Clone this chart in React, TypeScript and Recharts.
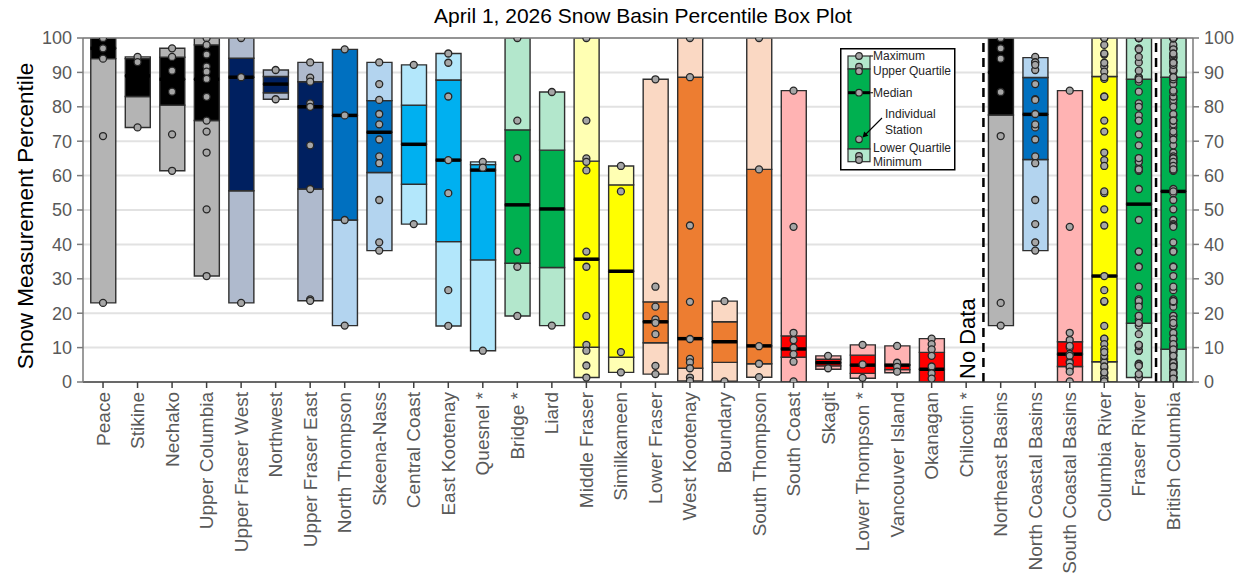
import React from "react";
import {
  ComposedChart,
  Bar,
  Scatter,
  XAxis,
  YAxis,
  CartesianGrid,
  ReferenceLine,
  Cell,
  Label,
} from "recharts";

const FONT = '"Liberation Sans", Arial, Helvetica, sans-serif';

const basins = [
  "Peace", "Stikine", "Nechako", "Upper Columbia", "Upper Fraser West", "Northwest",
  "Upper Fraser East", "North Thompson", "Skeena-Nass", "Central Coast", "East Kootenay",
  "Quesnel *", "Bridge *", "Liard", "Middle Fraser", "Similkameen", "Lower Fraser",
  "West Kootenay", "Boundary", "South Thompson", "South Coast", "Skagit",
  "Lower Thompson *", "Vancouver Island", "Okanagan", "Chilcotin *", "Northeast Basins",
  "North Coastal Basins", "South Coastal Basins", "Columbia River", "Fraser River",
  "British Columbia",
];

const minValues = [23, 74, 61.4, 30.8, 23, 82.2, 23.6, 16.4, 38.2, 45.9, 16.3, 9.1, 19.2, 16.4, 1.3, 2.8, 2.3, 0.3, 0.2, 1.4, 0, 3.7, 1.1, 2.7, 0, null, 16.4, 38.2, 0, 0, 1.3, 0];
const lowerQuartiles = [94, 83, 80.5, 76, 55.6, 84.1, 56.1, 47.1, 60.9, 57.5, 40.8, 35.5, 34.5, 33.3, 10.1, 7.2, 11.4, 4.0, 5.7, 5.3, 7.2, 4.7, 2.5, 3.6, 0, null, 77.6, 64.7, 4.5, 5.9, 17.1, 9.5];
const medians = [97, 89, 88, 88, 88.6, 86.6, 80, 77.5, 72.6, 69.1, 64.5, 61.6, 51.5, 50.3, 35.7, 32.2, 17.5, 12.6, 11.7, 10.5, 9.6, 5.6, 4.9, 4.9, 3.7, null, 90, 77.8, 8.1, 30.8, 51.7, 55.4];
const upperQuartiles = [100, 94, 94.4, 98, 94.1, 88.8, 87.3, 96.7, 81.8, 80.5, 87.8, 63.2, 73.3, 67.4, 64.2, 57.3, 23.3, 88.6, 17.5, 61.8, 13.4, 6.6, 7.8, 5.0, 8.6, null, 100, 88.5, 11.7, 88.8, 88, 88.6];
const maxValues = [100, 94.5, 97, 100, 100, 90.7, 92.9, 96.7, 92.9, 92.2, 95.5, 64, 100, 84.3, 100, 62.8, 88, 100, 23.5, 100, 84.7, 7.6, 10.8, 10.5, 12.6, null, 100, 94.3, 84.7, 100, 100, 100];

const GREY = ["#000000", "#b4b4b4"];
const NAVY = ["#002060", "#afbacd"];
const BLUE = ["#0070c0", "#b3d4ef"];
const CYAN = ["#00b0f0", "#b3e7fb"];
const GREEN = ["#00b050", "#b3e7cc"];
const YELLOW = ["#ffff00", "#ffffb3"];
const ORANGE = ["#ed7d31", "#fad8c3"];
const RED = ["#ff0000", "#ffb3b3"];
const NONE = ["none", "none"];

const basinPalettes = [
  GREY, GREY, GREY, GREY, NAVY, NAVY, NAVY, BLUE, BLUE, CYAN, CYAN, CYAN, GREEN, GREEN,
  YELLOW, YELLOW, ORANGE, ORANGE, ORANGE, ORANGE, RED, RED, RED, RED, RED, NONE,
  GREY, BLUE, RED, YELLOW, GREEN, GREEN,
];

// Individual station percentiles
const peaceStations = [100, 97, 94, 71.5, 23];
const stikineStations = [94.5, 93, 74];
const nechakoStations = [97, 94.5, 90.5, 84.4, 72, 61.4];
const upperColumbiaStations = [100, 98, 95.2, 91.7, 90.2, 88.1, 82.9, 76, 72.8, 66.7, 50.2, 30.8];
const upperFraserWestStations = [100, 88.6, 23];
const northwestStations = [90.7, 82.2];
const upperFraserEastStations = [92.9, 88.5, 87.3, 81, 80, 68.8, 56.1, 24, 23.6];
const northThompsonStations = [96.7, 77.5, 47.1, 16.4];
const skeenaNassStations = [92.9, 86.6, 82, 77.9, 74.9, 70.5, 65.6, 63.6, 52.9, 40.6, 38.2];
const centralCoastStations = [92.2, 45.9];
const eastKootenayStations = [95.5, 92.8, 83, 64.5, 54.9, 26.7, 16.3];
const quesnelStations = [64, 62.3, 9.1];
const bridgeStations = [100, 76, 65.1, 37.9, 33.5, 19.2];
const liardStations = [84.3, 16.4];
const middleFraserStations = [100, 76, 65, 64, 61.5, 37.9, 33.5, 19.2, 10.8, 9.1, 4.8, 1.3];
const similkameenStations = [62.8, 55.4, 8.7, 2.8];
const lowerFraserStations = [88, 27.7, 21.9, 18.2, 17.2, 13.9, 4.7, 2.3];
const westKootenayStations = [100, 88.6, 45.5, 23.3, 12.5, 6.7, 5.7, 4.0, 1.3, 0.3];
const boundaryStations = [23.5, 0.2];
const southThompsonStations = [100, 61.8, 10.4, 5.3, 1.4];
const southCoastStations = [84.7, 45.1, 14.3, 12.2, 10, 8.1, 5.9, 0.2];
const skagitStations = [7.6, 4.0];
const lowerThompsonStations = [10.8, 5.1, 1.2];
const vancouverIslandStations = [10.5, 5.6, 4.4, 3.0];
const okanaganStations = [12.6, 11, 9.5, 7.6, 4.5, 2.5, 1.0];
const chilcotinStations: number[] = [];

const northeastBasinsStations = [...peaceStations, ...liardStations];
const northCoastalBasinsStations = [
  ...stikineStations, ...northwestStations, ...skeenaNassStations, ...centralCoastStations,
];
const southCoastalBasinsStations = [...southCoastStations, ...skagitStations, ...vancouverIslandStations];
const columbiaRiverStations = [
  ...upperColumbiaStations, ...eastKootenayStations, ...westKootenayStations,
  ...okanaganStations, ...boundaryStations, ...similkameenStations,
];
const fraserRiverStations = [
  ...upperFraserWestStations, ...upperFraserEastStations, ...nechakoStations, ...quesnelStations,
  ...middleFraserStations, ...northThompsonStations, ...southThompsonStations,
  ...lowerThompsonStations, ...lowerFraserStations, ...bridgeStations,
];
const britishColumbiaStations = [
  ...peaceStations, ...stikineStations, ...nechakoStations, ...upperColumbiaStations,
  ...upperFraserWestStations, ...northwestStations, ...upperFraserEastStations,
  ...northThompsonStations, ...skeenaNassStations, ...centralCoastStations,
  ...eastKootenayStations, ...quesnelStations, ...bridgeStations, ...liardStations,
  ...middleFraserStations, ...similkameenStations, ...lowerFraserStations,
  ...westKootenayStations, ...boundaryStations, ...southThompsonStations,
  ...southCoastStations, ...skagitStations, ...lowerThompsonStations,
  ...vancouverIslandStations, ...okanaganStations,
];

const stationLists = [
  peaceStations, stikineStations, nechakoStations, upperColumbiaStations,
  upperFraserWestStations, northwestStations, upperFraserEastStations, northThompsonStations,
  skeenaNassStations, centralCoastStations, eastKootenayStations, quesnelStations,
  bridgeStations, liardStations, middleFraserStations, similkameenStations,
  lowerFraserStations, westKootenayStations, boundaryStations, southThompsonStations,
  southCoastStations, skagitStations, lowerThompsonStations, vancouverIslandStations,
  okanaganStations, chilcotinStations, northeastBasinsStations, northCoastalBasinsStations,
  southCoastalBasinsStations, columbiaRiverStations, fraserRiverStations,
  britishColumbiaStations,
];

const yTicks = [0, 10, 20, 30, 40, 50, 60, 70, 80, 90, 100];
const noDataIndex = 25;
const separatorPositions = [25.5, 30.5];

// Tables built for the library
const rows = basins.map((name, i) => {
  const mn = minValues[i];
  if (mn == null) return { x: i, name };
  const q1 = lowerQuartiles[i] as number;
  const md = medians[i] as number;
  const q3 = upperQuartiles[i] as number;
  const mx = maxValues[i] as number;
  return { x: i, name, base: mn, s1: q1 - mn, s2: md - q1, s3: q3 - md, s4: mx - q3 };
});
const medianPoints = medians
  .map((m, i) => (m == null ? null : { x: i, y: m }))
  .filter((p) => p != null);
const stationPoints = stationLists.flatMap((list, i) => list.map((v) => ({ x: i, y: v })));

const BAR_W = 25;
const EDGE = "#2f2f2f";

const XTick = (props: any) => {
  const { x, y, payload } = props;
  const yy = y + 2;
  return (
    <text
      x={x}
      y={yy}
      transform={`rotate(-90 ${x} ${yy})`}
      textAnchor="end"
      dominantBaseline="central"
      fontSize={19}
      fill="#595959"
      fontFamily={FONT}
    >
      {basins[payload.value]}
    </text>
  );
};

const renderYTitle = (props: any) => {
  const vb = props.viewBox || { x: 0, y: 30, width: 75, height: 344 };
  const x = vb.x + 17;
  const y = vb.y + vb.height / 2 + 6;
  return (
    <text
      x={x}
      y={y}
      transform={`rotate(-90 ${x} ${y})`}
      textAnchor="middle"
      dominantBaseline="central"
      fontSize={22.5}
      fill="#000"
      fontFamily={FONT}
    >
      Snow Measurement Percentile
    </text>
  );
};

const renderNoData = (props: any) => {
  const vb = props.viewBox;
  if (!vb) return null;
  const x = vb.x + 1;
  const y = vb.y + vb.height - 3;
  return (
    <text
      x={x}
      y={y}
      transform={`rotate(-90 ${x} ${y})`}
      textAnchor="start"
      dominantBaseline="central"
      fontSize={22}
      fill="#000"
      fontFamily={FONT}
    >
      No Data
    </text>
  );
};

const MedianShape = (p: any) => (
  <line x1={p.cx - BAR_W / 2} x2={p.cx + BAR_W / 2} y1={p.cy} y2={p.cy} stroke="#000" strokeWidth={3.5} />
);

const StationShape = (p: any) => (
  <circle cx={p.cx} cy={p.cy} r={3.5} fill="#a6a6a6" stroke="#262626" strokeWidth={1.3} />
);

const BoxLegend = () => {
  const t = { fontSize: 12, fill: "#262626", fontFamily: FONT, dominantBaseline: "central" as const };
  const c = (cy: number) => <circle cx={19} cy={cy} r={3.3} fill="#a6a6a6" stroke="#262626" strokeWidth={1.2} />;
  return (
    <svg width={116} height={123}>
      <rect x={0.75} y={0.75} width={114} height={121} fill="#fff" stroke="#000" strokeWidth={1.5} />
      <rect x={8} y={8} width={22} height={13} fill={GREEN[1]} stroke={EDGE} strokeWidth={1.2} />
      <rect x={8} y={21} width={22} height={80} fill={GREEN[0]} stroke={EDGE} strokeWidth={1.2} />
      <rect x={8} y={101} width={22} height={12.7} fill={GREEN[1]} stroke={EDGE} strokeWidth={1.2} />
      <line x1={8} x2={30} y1={44.7} y2={44.7} stroke="#000" strokeWidth={3} />
      <line x1={30} x2={33} y1={8} y2={8} stroke={EDGE} strokeWidth={1.2} />
      <line x1={30} x2={33} y1={44.7} y2={44.7} stroke={EDGE} strokeWidth={1.2} />
      {c(8)}
      {c(18.7)}
      {c(23.2)}
      {c(44.7)}
      {c(91.3)}
      {c(108)}
      {c(112)}
      <line x1={42} y1={70} x2={24.5} y2={87.5} stroke="#000" strokeWidth={1.1} />
      <polygon points="22.5,89.5 24.2,83.6 28.4,87.8" fill="#000" />
      <text x={33} y={8} {...t}>Maximum</text>
      <text x={33} y={22.5} {...t}>Upper Quartile</text>
      <text x={33} y={45.3} {...t}>Median</text>
      <text x={45} y={66} {...t}>Individual</text>
      <text x={45} y={81.5} {...t}>Station</text>
      <text x={33} y={99.8} {...t}>Lower Quartile</text>
      <text x={33} y={114} {...t}>Minimum</text>
    </svg>
  );
};

const segKeys = ["s1", "s2", "s3", "s4"];

export default function App() {
  return (
    <div style={{ position: "relative", width: 1236, height: 567, fontFamily: FONT }}>
      <div
        style={{
          position: "absolute",
          top: -4,
          left: 0,
          width: 1270,
          textAlign: "center",
          fontSize: 21,
          lineHeight: "24px",
          color: "#000",
          fontFamily: FONT,
          zIndex: 2,
        }}
      >
        April 1, 2026 Snow Basin Percentile Box Plot
      </div>
      <ComposedChart
        width={1236}
        height={567}
        data={rows}
        margin={{ top: 30, right: 0, bottom: 0, left: 0 }}
      >
        <CartesianGrid yAxisId="left" vertical={false} stroke="#e2e2e2" strokeWidth={2} />
        <XAxis
          dataKey="x"
          type="number"
          domain={[-0.58, 31.57]}
          allowDataOverflow
          ticks={basins.map((_, i) => i)}
          interval={0}
          height={193}
          tick={<XTick />}
          tickSize={6}
          tickLine={{ stroke: "#404040", strokeWidth: 1.5 }}
          axisLine={{ stroke: "#404040", strokeWidth: 1.5 }}
        />
        <YAxis
          yAxisId="left"
          type="number"
          domain={[0, 100]}
          allowDataOverflow
          ticks={yTicks}
          interval={0}
          width={75}
          tick={{ fill: "#595959", fontSize: 18, fontFamily: FONT }}
          tickSize={6}
          tickMargin={5}
          tickLine={{ stroke: "#7a7a7a", strokeWidth: 1.5 }}
          axisLine={{ stroke: "#7a7a7a", strokeWidth: 1.5 }}
        >
          <Label content={renderYTitle} />
        </YAxis>
        <YAxis
          yAxisId="right"
          orientation="right"
          type="number"
          domain={[0, 100]}
          allowDataOverflow
          ticks={yTicks}
          interval={0}
          width={51}
          tick={{ fill: "#595959", fontSize: 18, fontFamily: FONT }}
          tickSize={6}
          tickMargin={5}
          tickLine={{ stroke: "#7a7a7a", strokeWidth: 1.5 }}
          axisLine={{ stroke: "#7a7a7a", strokeWidth: 1.5 }}
        />
        <ReferenceLine yAxisId="left" y={100} stroke="#7a7a7a" strokeWidth={1.5} />
        <Bar dataKey="base" stackId="box" yAxisId="left" barSize={BAR_W} fill="transparent" isAnimationActive={false} />
        {segKeys.map((k, j) => (
          <Bar
            key={k}
            dataKey={k}
            stackId="box"
            yAxisId="left"
            barSize={BAR_W}
            stroke={EDGE}
            strokeWidth={1.4}
            isAnimationActive={false}
          >
            {rows.map((_, i) => (
              <Cell key={i} fill={j === 0 || j === 3 ? basinPalettes[i][1] : basinPalettes[i][0]} />
            ))}
          </Bar>
        ))}
        {separatorPositions.map((p) => (
          <ReferenceLine key={p} yAxisId="left" x={p} stroke="#000" strokeWidth={2.5} strokeDasharray="9 6" />
        ))}
        <ReferenceLine yAxisId="left" x={noDataIndex} stroke="none">
          <Label content={renderNoData} />
        </ReferenceLine>
        <Scatter
          yAxisId="left"
          data={medianPoints}
          dataKey="y"
          shape={MedianShape}
          isAnimationActive={false}
        />
        <Scatter
          yAxisId="left"
          data={stationPoints}
          dataKey="y"
          shape={StationShape}
          isAnimationActive={false}
        />
      </ComposedChart>
      <div style={{ position: "absolute", left: 832, top: 40, width: 116, height: 123, zIndex: 3 }}>
        <BoxLegend />
      </div>
    </div>
  );
}
